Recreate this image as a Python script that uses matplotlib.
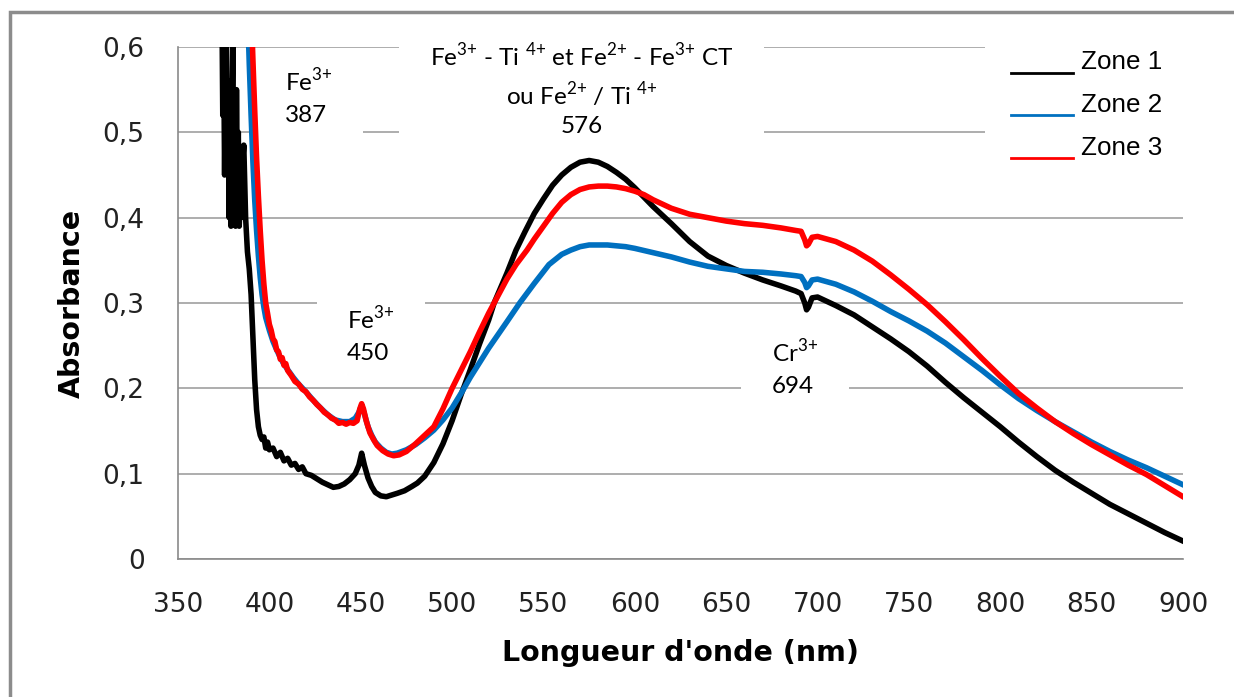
import matplotlib
matplotlib.use('Agg')
import matplotlib.pyplot as plt
from matplotlib.patches import Rectangle

plt.rcParams['mathtext.fontset'] = 'custom'
plt.rcParams['mathtext.rm'] = 'Lato'

# Zone 1 (black)
z1_wl = [374, 374.5, 375, 375.5, 376, 376.5, 377, 377.5, 378, 378.5, 379, 379.5, 380, 380.5,
         381, 381.5, 382, 382.5, 383, 383.5, 384, 384.5, 385, 385.5, 386, 386.5, 387, 387.5,
         388, 389, 390, 391, 392, 393, 394, 395, 396, 397, 398, 399, 400, 402, 404, 406, 408,
         410, 412, 414, 416, 418, 420, 423, 426, 429, 432, 435, 438, 441, 444, 447, 449, 450.5,
         452, 454, 456, 458, 461, 464, 467, 470, 474, 478, 481, 485, 490, 495, 500, 505, 510,
         515, 520, 523, 530, 535, 540, 545, 550, 555, 560, 565, 570, 575, 580, 585, 590, 595,
         600, 605, 610, 620, 630, 640, 650, 660, 670, 680, 688, 691, 693, 694, 695, 697, 700,
         710, 720, 730, 740, 750, 760, 770, 780, 790, 800, 810, 820, 830, 840, 850, 860, 870,
         880, 890, 900]
z1_abs = [0.66, 0.52, 0.60, 0.45, 0.58, 0.62, 0.47, 0.55, 0.40, 0.56, 0.39, 0.52, 0.60, 0.42,
          0.50, 0.39, 0.55, 0.44, 0.50, 0.39, 0.42, 0.40, 0.45, 0.47, 0.485, 0.44, 0.40, 0.38,
          0.36, 0.34, 0.31, 0.26, 0.21, 0.175, 0.155, 0.145, 0.14, 0.143, 0.13, 0.137, 0.128, 0.13,
          0.12, 0.125, 0.115, 0.118, 0.11, 0.112, 0.105, 0.108, 0.10, 0.098, 0.094, 0.09, 0.087,
          0.084, 0.085, 0.088, 0.093, 0.10, 0.11, 0.124, 0.11, 0.095, 0.085, 0.078, 0.074, 0.073,
          0.075, 0.077, 0.080, 0.085, 0.089, 0.097, 0.113, 0.135, 0.162, 0.193, 0.222, 0.252,
          0.28, 0.30, 0.335, 0.362, 0.384, 0.405, 0.422, 0.438, 0.45, 0.459, 0.465, 0.467, 0.465,
          0.46, 0.453, 0.445, 0.435, 0.424, 0.413, 0.393, 0.372, 0.355, 0.344, 0.335, 0.327,
          0.32, 0.314, 0.311, 0.30, 0.292, 0.295, 0.306, 0.307, 0.297, 0.286, 0.272, 0.258,
          0.243, 0.226, 0.207, 0.189, 0.172, 0.155, 0.137, 0.12, 0.104, 0.09, 0.077, 0.064,
          0.053, 0.042, 0.031, 0.021]

# Zone 2 (blue)
z2_wl = [388, 389, 390, 391, 392, 393, 394, 395, 396, 397, 398, 400, 402, 404, 406, 408,
         410, 413, 416, 420, 424, 428, 432, 436, 440, 444, 447, 449, 450.5, 452, 454, 456, 458,
         461, 464, 467, 470, 475, 480, 485, 490, 495, 500, 506, 510, 520, 530, 537, 545, 553,
         560, 565, 570, 575, 580, 585, 590, 595, 600, 610, 620, 630, 640, 650, 660, 670, 680,
         688, 691, 693, 694, 695, 697, 700, 710, 720, 730, 740, 750, 760, 770, 780, 790, 800,
         810, 820, 830, 840, 850, 860, 870, 880, 890, 900]
z2_abs = [0.65, 0.58, 0.52, 0.465, 0.42, 0.385, 0.355, 0.33, 0.31, 0.295, 0.283, 0.268,
          0.255, 0.245, 0.236, 0.228, 0.222, 0.213, 0.205, 0.196, 0.186, 0.177, 0.169, 0.163,
          0.161, 0.161, 0.165, 0.172, 0.18, 0.17, 0.155, 0.145, 0.137, 0.13, 0.125, 0.123, 0.124,
          0.128, 0.134, 0.142, 0.151, 0.163, 0.177, 0.198, 0.213, 0.247, 0.278, 0.30, 0.323,
          0.345, 0.357, 0.362, 0.366, 0.368, 0.368, 0.368, 0.367, 0.366, 0.364, 0.359, 0.354,
          0.348, 0.343, 0.34, 0.337, 0.336, 0.334, 0.332, 0.331, 0.324, 0.318, 0.32, 0.327,
          0.328, 0.322, 0.313, 0.302, 0.29, 0.279, 0.267, 0.253, 0.237, 0.221, 0.204, 0.188,
          0.174, 0.161, 0.149, 0.137, 0.126, 0.116, 0.107, 0.097, 0.087]

# Zone 3 (red)
z3_wl = [390, 391, 392, 393, 394, 395, 396, 397, 398, 399, 400, 401, 402, 403, 404, 405, 406,
         407, 408, 409, 410, 412, 414, 416, 418, 420, 422, 424, 426, 428, 430, 432, 434, 436,
         438, 440, 442, 444, 446, 448, 449.5, 450.5, 451.5, 453, 455, 457, 459, 462, 465, 468,
         471, 475, 480, 485, 490, 495, 500, 510, 515, 520, 523, 530, 535, 541, 545, 550, 555,
         560, 565, 570, 575, 580, 585, 590, 595, 600, 605, 610, 620, 630, 640, 650, 660, 670,
         680, 688, 691, 693, 694, 695, 697, 700, 710, 720, 730, 740, 750, 760, 770, 780, 790,
         800, 810, 820, 830, 840, 850, 860, 870, 880, 890, 900]
z3_abs = [0.65, 0.585, 0.525, 0.47, 0.425, 0.385, 0.35, 0.322, 0.30, 0.288, 0.275, 0.268,
          0.258, 0.255, 0.245, 0.243, 0.234, 0.236, 0.227, 0.229, 0.221, 0.215, 0.208, 0.205,
          0.199, 0.196, 0.19, 0.186, 0.181, 0.177, 0.172, 0.169, 0.165, 0.163, 0.159, 0.16,
          0.158, 0.16, 0.159, 0.162, 0.176, 0.182, 0.176, 0.162, 0.148, 0.14, 0.133, 0.127,
          0.123, 0.121, 0.122, 0.126, 0.135, 0.145, 0.155, 0.176, 0.20, 0.243, 0.266, 0.288,
          0.30, 0.328, 0.345, 0.362, 0.375, 0.39, 0.405, 0.418, 0.427, 0.433, 0.436, 0.437,
          0.437, 0.436, 0.434, 0.431, 0.427, 0.421, 0.411, 0.404, 0.40, 0.396, 0.393, 0.391,
          0.388, 0.385, 0.384, 0.374, 0.367, 0.369, 0.377, 0.378, 0.372, 0.362, 0.349, 0.333,
          0.316, 0.298, 0.278, 0.257, 0.235, 0.214, 0.194, 0.177, 0.161, 0.147, 0.134, 0.122,
          0.11, 0.099, 0.086, 0.073]

x_ticks = [350, 400, 450, 500, 550, 600, 650, 700, 750, 800, 850, 900]
y_ticks = [0, 0.1, 0.2, 0.3, 0.4, 0.5, 0.6]
y_ticklabels = ['0', '0,1', '0,2', '0,3', '0,4', '0,5', '0,6']

fig = plt.figure(figsize=(12.34, 6.97), dpi=100)
ax = fig.add_axes([178/1234, 138/697, 1005/1234, 512/697])

l1, = ax.plot(z1_wl, z1_abs, color='black', lw=4.0, solid_joinstyle='round', label='Zone 1')
l2, = ax.plot(z2_wl, z2_abs, color='#0070C0', lw=4.0, solid_joinstyle='round', label='Zone 2')
l3, = ax.plot(z3_wl, z3_abs, color='#FF0000', lw=4.0, solid_joinstyle='round', label='Zone 3')

ax.set_xlim(350, 900)
ax.set_ylim(0, 0.6)
ax.set_xticks(x_ticks)
ax.set_yticks(y_ticks)
ax.set_yticklabels(y_ticklabels)
ax.tick_params(length=0, labelsize=19, pad=24, labelcolor='#222222')
ax.grid(axis='y', color='#a0a0a0', lw=1.2)
ax.set_axisbelow(True)
for s in ['top', 'right']:
    ax.spines[s].set_visible(False)
for s in ['left', 'bottom']:
    ax.spines[s].set_color('#8a8a8a')
    ax.spines[s].set_linewidth(1.2)

ax.set_xlabel("Longueur d'onde (nm)", fontsize=20.5, fontweight='bold', labelpad=15)
ax.set_ylabel('Absorbance', fontsize=20.5, fontweight='bold', labelpad=12)


def ion(n):
    # superscript charge, '+' kept unspaced
    return '$^{\\mathregular{' + n + '{+}}}$'


box = dict(facecolor='white', edgecolor='none', pad=22, mutation_aspect=0.45)
tkw = dict(fontsize=17.5, family='Lato', zorder=1.5, clip_on=False, bbox=box)
ax.text(421.7, 0.5416, 'Fe' + ion('3') + '\n387', ha='center', va='center',
        multialignment='left', linespacing=1.6, **tkw)
ax.text(455.6, 0.2626, 'Fe' + ion('3') + '\n450', ha='center', va='center',
        multialignment='left', linespacing=1.6, **tkw)
ax.text(687.7, 0.224, 'Cr' + ion('3') + '\n694', ha='center', va='center',
        multialignment='left', linespacing=1.6, **tkw)
ax.text(571, 0.550, 'Fe' + ion('3') + ' - Ti ' + ion('4') + ' et Fe' + ion('2') + ' - Fe'
        + ion('3') + ' CT\nou Fe' + ion('2') + ' / Ti ' + ion('4') + '\n576',
        ha='center', va='center', multialignment='center', linespacing=1.42, **tkw)

leg = ax.legend(handles=[l1, l2, l3], loc='upper left', bbox_to_anchor=(0.790, 1.07),
                prop={'family': 'Liberation Sans', 'size': 18.7}, frameon=True,
                fancybox=False, framealpha=1, edgecolor='none', facecolor='white',
                handlelength=2.4, handletextpad=0.3, labelspacing=0.73, borderpad=1.0)
for h in leg.get_lines():
    h.set_linewidth(2)
    h.set_ydata([y - 9 for y in h.get_ydata()])

fig.add_artist(Rectangle((10/1234, -0.1), 1.2, (697-12)/697 + 0.1, transform=fig.transFigure,
                         fill=False, edgecolor='#8c8c8c', lw=2.5))

fig.savefig('out.png', dpi=100)
